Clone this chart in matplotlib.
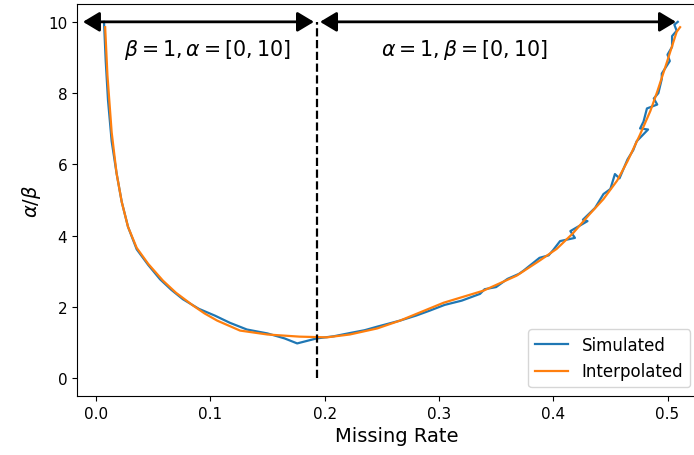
import numpy as np
import matplotlib.pyplot as plt

# Simulated curve (noisy)
sim_x = [0.007, 0.0085, 0.0105, 0.0137, 0.018, 0.0225, 0.028, 0.0356, 0.0457, 0.056,
         0.066, 0.076, 0.090, 0.104, 0.117, 0.132, 0.150, 0.165, 0.176, 0.193,
         0.208, 0.222, 0.235, 0.246, 0.266, 0.280, 0.292, 0.305, 0.320, 0.336,
         0.340, 0.350, 0.360, 0.370, 0.374, 0.388, 0.396, 0.400, 0.406, 0.419,
         0.415, 0.430, 0.426, 0.4366, 0.444, 0.450, 0.454, 0.458, 0.465, 0.470,
         0.473, 0.483, 0.476, 0.479, 0.482, 0.491, 0.488, 0.492, 0.495, 0.495,
         0.502, 0.500, 0.504, 0.504, 0.508, 0.506, 0.509]
sim_y = [10.0, 8.9, 7.8, 6.65, 5.75, 4.95, 4.25, 3.62, 3.18, 2.78,
         2.48, 2.22, 1.95, 1.76, 1.56, 1.37, 1.26, 1.12, 0.98, 1.12,
         1.18, 1.27, 1.35, 1.45, 1.62, 1.76, 1.90, 2.06, 2.18, 2.37,
         2.50, 2.56, 2.79, 2.93, 3.02, 3.38, 3.45, 3.60, 3.85, 3.94,
         4.13, 4.41, 4.45, 4.78, 5.17, 5.31, 5.73, 5.61, 6.14, 6.40,
         6.65, 6.98, 7.01, 7.20, 7.57, 7.68, 7.85, 8.00, 8.40, 8.55,
         8.90, 9.08, 9.30, 9.60, 9.75, 9.92, 10.0]

# Interpolated curve (smooth)
int_x = [0.008, 0.010, 0.0137, 0.018, 0.0225, 0.028, 0.0356, 0.0457, 0.0586, 0.070,
         0.085, 0.095, 0.106, 0.126, 0.150, 0.178, 0.202, 0.222, 0.246, 0.266,
         0.304, 0.339, 0.368, 0.388, 0.403, 0.417, 0.432, 0.444, 0.456, 0.465,
         0.476, 0.485, 0.491, 0.4996, 0.508, 0.511]
int_y = [9.85, 8.5, 6.9, 5.75, 4.95, 4.25, 3.66, 3.21, 2.74, 2.40,
         2.04, 1.82, 1.62, 1.34, 1.23, 1.17, 1.15, 1.23, 1.40, 1.62,
         2.12, 2.46, 2.88, 3.30, 3.63, 4.06, 4.61, 5.03, 5.55, 6.09,
         6.84, 7.50, 8.04, 8.88, 9.72, 9.85]

split_x = 0.1934
left_arrow = (-0.0114, 0.1907)
right_arrow = (0.196, 0.5074)

fig = plt.figure(figsize=(6.94, 4.56), dpi=100)
ax = fig.add_axes([0.111, 0.129, 0.92, 0.860])

ax.plot(sim_x, sim_y, color='C0', lw=1.6, label='Simulated')
ax.plot(int_x, int_y, color='C1', lw=1.6, label='Interpolated')
ax.plot([split_x, split_x], [0, 10], 'k--', lw=1.6)

# double-headed range arrows
arrow = dict(arrowstyle='<|-|>,head_length=0.5,head_width=0.3', color='k', lw=2,
             mutation_scale=20, shrinkA=0, shrinkB=0)
ax.annotate('', xy=(left_arrow[0], 10), xytext=(left_arrow[1], 10), arrowprops=arrow)
ax.annotate('', xy=(right_arrow[0], 10), xytext=(right_arrow[1], 10), arrowprops=arrow)
ax.text(0.097, 9.25, r'$\beta = 1, \alpha = [0, 10]$', ha='center', va='center', fontsize=14.8)
ax.text(0.322, 9.25, r'$\alpha = 1, \beta = [0, 10]$', ha='center', va='center', fontsize=14.8)

ax.set_xlim(-0.0166, 0.542)
ax.set_ylim(-0.5, 10.5)
ax.set_xticks([0.0, 0.1, 0.2, 0.3, 0.4, 0.5])
ax.set_yticks([0, 2, 4, 6, 8, 10])
ax.tick_params(labelsize=11)
ax.set_xlabel('Missing Rate', fontsize=14)
ax.set_ylabel(r'$\alpha/\beta$', fontsize=14)
# legend sits inside the visible part of the (cropped) axes
ax.legend(loc='lower right', fontsize=12, bbox_to_anchor=(0.994, 0.149),
          bbox_transform=fig.transFigure, borderaxespad=0.0)

fig.savefig('out.png', dpi=100)
